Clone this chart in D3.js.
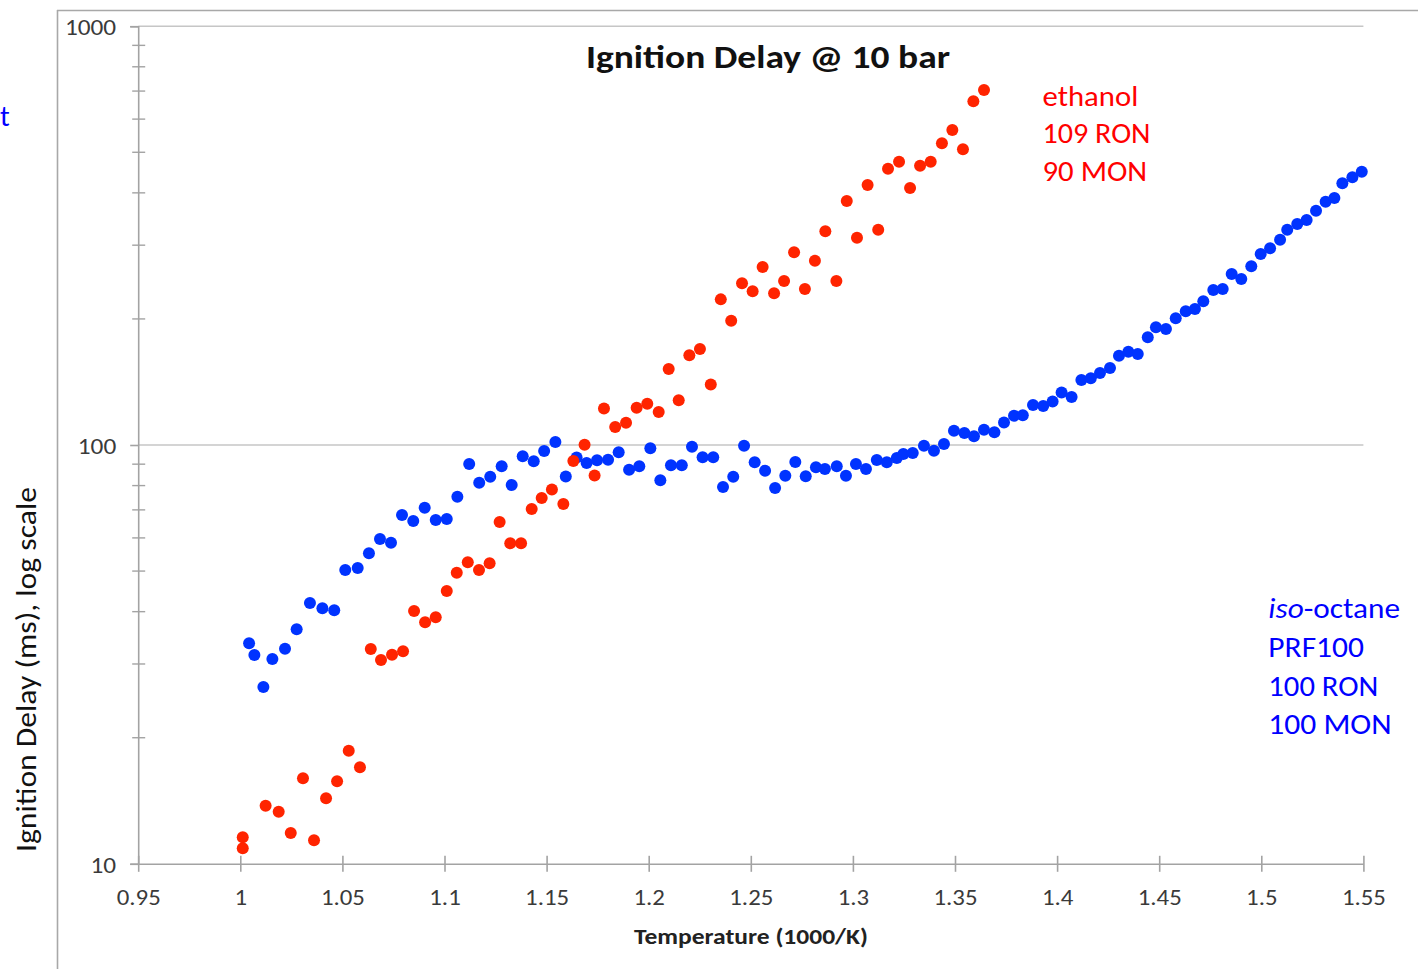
<!DOCTYPE html>
<html>
<head>
<meta charset="utf-8">
<script src="https://cdn.jsdelivr.net/npm/d3@7"></script>
<style>
  html, body { margin: 0; padding: 0; background: #fff; }
  svg { display: block; }
  text { font-family: Carlito, Lato, "Open Sans", sans-serif; }
</style>
</head>
<body>
<svg id="chart" width="1418" height="969"></svg>
<script>
// ---------- data ----------
const ethanolT = [1.0012,1.0012,1.0124,1.0188,1.0247,1.0307,1.0361,1.0420,1.0474,1.0531,1.0586,1.0639,1.0689,1.0743,1.0797,1.0851,1.0905,1.0957,1.1011,1.1060,1.1114,1.1169,1.1221,1.1270,1.1322,1.1375,1.1427,1.1476,1.1526,1.1582,1.1631,1.1686,1.1735,1.1781,1.1836,1.1889,1.1941,1.1993,1.2049,1.2098,1.2147,1.2199,1.2251,1.2304,1.2353,1.2404,1.2457,1.2509,1.2558,1.2614,1.2663,1.2712,1.2765,1.2814,1.2865,1.2919,1.2970,1.3020,1.3072,1.3124,1.3172,1.3226,1.3280,1.3329,1.3381,1.3436,1.3487,1.3539,1.3590,1.3642];
const ethanolDelay = [11.57,10.89,13.76,13.32,11.84,16.00,11.38,14.33,15.74,18.62,17.00,32.58,30.66,31.57,32.17,40.14,37.73,38.78,44.82,49.56,52.48,50.29,52.19,65.48,58.25,58.25,70.35,74.72,78.28,72.31,91.58,100.2,84.56,122.2,110.4,113.0,122.8,125.5,119.9,151.9,127.9,163.8,169.5,139.5,222.7,198.1,243.4,232.9,266.1,230.4,246.4,288.5,235.8,275.5,323.8,246.4,382.4,312.6,417.7,326.6,456.8,474.8,410.9,464.5,474.8,525.3,565.1,508.3,661.8,704.3];

const isoT = [1.0043,1.0069,1.0113,1.0157,1.0219,1.0276,1.0341,1.0402,1.0460,1.0514,1.0575,1.0630,1.0684,1.0738,1.0792,1.0847,1.0903,1.0957,1.1011,1.1063,1.1121,1.1170,1.1224,1.1280,1.1329,1.1383,1.1437,1.1488,1.1543,1.1594,1.1647,1.1696,1.1747,1.1801,1.1853,1.1904,1.1954,1.2008,1.2057,1.2109,1.2162,1.2212,1.2264,1.2316,1.2364,1.2414,1.2467,1.2519,1.2570,1.2619,1.2669,1.2718,1.2769,1.2819,1.2863,1.2921,1.2966,1.3015,1.3064,1.3117,1.3166,1.3215,1.3247,1.3293,1.3348,1.3397,1.3446,1.3495,1.3546,1.3593,1.3642,1.3693,1.3740,1.3789,1.3832,1.3882,1.3932,1.3978,1.4022,1.4071,1.4119,1.4165,1.4210,1.4259,1.4303,1.4349,1.4395,1.4444,1.4484,1.4533,1.4581,1.4630,1.4675,1.4716,1.4765,1.4811,1.4855,1.4902,1.4951,1.4997,1.5043,1.5092,1.5127,1.5176,1.5222,1.5268,1.5315,1.5358,1.5397,1.5446,1.5492];
const isoDelay = [33.61,31.52,26.43,30.83,32.63,36.29,41.95,40.74,40.30,50.29,50.85,55.13,59.64,58.45,68.06,65.84,70.85,66.21,66.58,75.27,90.07,81.28,84.01,88.93,80.27,93.98,91.43,96.76,101.7,84.10,93.37,90.58,91.98,92.24,96.07,87.30,88.93,98.20,82.35,89.43,89.43,99.07,93.46,93.46,79.38,84.01,99.6,90.93,86.82,78.94,84.48,91.07,84.20,88.46,87.62,88.93,84.48,90.07,87.62,92.09,90.93,93.11,95.17,95.70,99.6,96.91,100.6,108.2,106.8,104.9,108.8,107.2,113.2,117.5,117.7,124.6,123.9,127.0,133.5,130.2,143.0,144.3,148.5,152.7,163.4,167.0,164.9,180.8,191.0,189.2,200.7,208.5,211.2,220.3,234.5,235.8,256.1,249.2,267.2,285.9,294.9,309.2,326.6,337.0,344.5,362.6,380.9,388.8,421.6,435.7,449.4];

const xTicks = [0.95,1,1.05,1.1,1.15,1.2,1.25,1.3,1.35,1.4,1.45,1.5,1.55];
const xTickLabels = ["0.95","1","1.05","1.1","1.15","1.2","1.25","1.3","1.35","1.4","1.45","1.5","1.55"];
const yTicks = [10,100,1000];
const yTickLabels = ["10","100","1000"];
const yMinorTicks = [20,30,40,50,60,70,80,90,200,300,400,500,600,700,800,900];

const titleText = "Ignition Delay @ 10 bar";
const xTitle = "Temperature (1000/K)";
const yTitle = "Ignition Delay (ms), log scale";
const ethanolLabel = ["ethanol","109 RON","90 MON"];
const isoLabelRest = ["PRF100","100 RON","100 MON"];

// ---------- drawing ----------
const svg = d3.select("#chart");
const plotL = 138.2, plotR = 1363.4, plotT = 26.2, plotB = 863.8;

const x = d3.scaleLinear().domain([0.95, 1.55]).range([plotL, plotR]);
const y = d3.scaleLog().domain([10, 1000]).range([plotB, plotT]);

const gridCol = "#c6c6c6", axisCol = "#a3a3a3", labCol = "#3a3a3a";

// the reference text is horizontally wider than Lato: stretch to measured widths
function stretch(sel, k) {
  sel.each(function() {
    const w = this.getComputedTextLength();
    d3.select(this).attr("textLength", w * k).attr("lengthAdjust", "spacingAndGlyphs");
  });
}
function fitTo(sel, w) {
  sel.attr("textLength", w).attr("lengthAdjust", "spacingAndGlyphs");
}

// outer frame (partly visible)
svg.append("line").attr("x1",57).attr("x2",1418).attr("y1",10.5).attr("y2",10.5)
  .attr("stroke","#a8a8a8").attr("stroke-width",1.6);
svg.append("line").attr("x1",57.5).attr("x2",57.5).attr("y1",10).attr("y2",969)
  .attr("stroke","#a8a8a8").attr("stroke-width",1.6);

// horizontal gridlines at 100 and 1000
svg.append("g").selectAll("line").data(yTicks.filter(d => d > 10)).join("line")
  .attr("x1", plotL).attr("x2", plotR)
  .attr("y1", d => y(d)).attr("y2", d => y(d))
  .attr("stroke", gridCol).attr("stroke-width", 1.6);

// y axis
const yAxis = d3.axisLeft(y).tickValues(yTicks).tickFormat((d,i) => yTickLabels[i]).tickSize(8).tickPadding(14);
const gy = svg.append("g").attr("transform", `translate(${plotL},0)`).call(yAxis);
gy.select(".domain").attr("stroke", axisCol).attr("stroke-width", 1.6);
gy.selectAll(".tick line").attr("stroke", axisCol).attr("stroke-width", 1.6);
gy.selectAll(".tick text").attr("fill", labCol).style("font-size","23px").style("font-family","Carlito, Lato, sans-serif")
  .attr("dy", "0.38em");
stretch(gy.selectAll(".tick text"), 1.1);

// y minor ticks crossing the axis
svg.append("g").selectAll("line").data(yMinorTicks).join("line")
  .attr("x1", plotL - 6).attr("x2", plotL + 7)
  .attr("y1", d => y(d)).attr("y2", d => y(d))
  .attr("stroke", axisCol).attr("stroke-width", 1.4);

// x axis
const xAxis = d3.axisBottom(x).tickValues(xTicks).tickFormat((d,i) => xTickLabels[i]).tickSize(8).tickPadding(17).tickSizeOuter(0);
const gx = svg.append("g").attr("transform", `translate(0,${plotB})`).call(xAxis);
gx.select(".domain").attr("stroke", axisCol).attr("stroke-width", 1.6);
gx.selectAll(".tick line").attr("stroke", axisCol).attr("stroke-width", 1.6).attr("y1", -8);
gx.selectAll(".tick text").attr("fill", labCol).style("font-size","23px").style("font-family","Carlito, Lato, sans-serif");
stretch(gx.selectAll(".tick text"), 1.08);

// points: iso-octane first, ethanol on top
const iso = isoT.map((t,i) => ({t, v: isoDelay[i]}));
const eth = ethanolT.map((t,i) => ({t, v: ethanolDelay[i]}));

svg.append("g").selectAll("circle").data(iso).join("circle")
  .attr("cx", d => x(d.t)).attr("cy", d => y(d.v)).attr("r", 6)
  .attr("fill", "#0033ff");
svg.append("g").selectAll("circle").data(eth).join("circle")
  .attr("cx", d => x(d.t)).attr("cy", d => y(d.v)).attr("r", 6)
  .attr("fill", "#ff2400");

// title
const title = svg.append("text").attr("x", 586).attr("y", 67.5)
  .style("font-size","31.5px").style("font-weight","bold").attr("fill","#111")
  .text(titleText);
fitTo(title, 364);

// axis titles
const xt = svg.append("text").attr("x", 634).attr("y", 944)
  .style("font-size","22px").style("font-weight","bold").attr("fill","#222")
  .text(xTitle);
fitTo(xt, 234);
const yt = svg.append("text").attr("transform","translate(36,852) rotate(-90)")
  .style("font-size","28px").attr("fill","#111")
  .text(yTitle);
fitTo(yt, 365);

// ethanol annotation
const ethWidths = [95.7, 108, 104.7];
svg.append("g").selectAll("text").data(ethanolLabel).join("text")
  .attr("x", 1042.5).attr("y", (d,i) => 105.7 + i*37.7)
  .style("font-size","28px").attr("fill","#ff0000")
  .text(d => d)
  .attr("textLength", (d,i) => ethWidths[i]).attr("lengthAdjust","spacingAndGlyphs");

// iso-octane annotation
const isoG = svg.append("g").attr("fill","#0000ff").style("font-size","28px");
const t0 = isoG.append("text").attr("x", 1268.3).attr("y", 618.3);
t0.append("tspan").style("font-style","italic").text("iso");
t0.append("tspan").text("-octane");
stretch(t0, 131.7 / t0.node().getComputedTextLength());
const isoWidths = [95.7, 110, 123.3];
isoG.selectAll("text.rest").data(isoLabelRest).join("text").attr("class","rest")
  .attr("x", 1268.3).attr("y", (d,i) => 657.3 + i*38.4)
  .text(d => d)
  .attr("textLength", (d,i) => isoWidths[i]).attr("lengthAdjust","spacingAndGlyphs");

// cut-off text fragment at left edge
svg.append("text").attr("x", 0).attr("y", 125.5).style("font-size","29px").attr("fill","#0000ff").text("t");
</script>
</body>
</html>
